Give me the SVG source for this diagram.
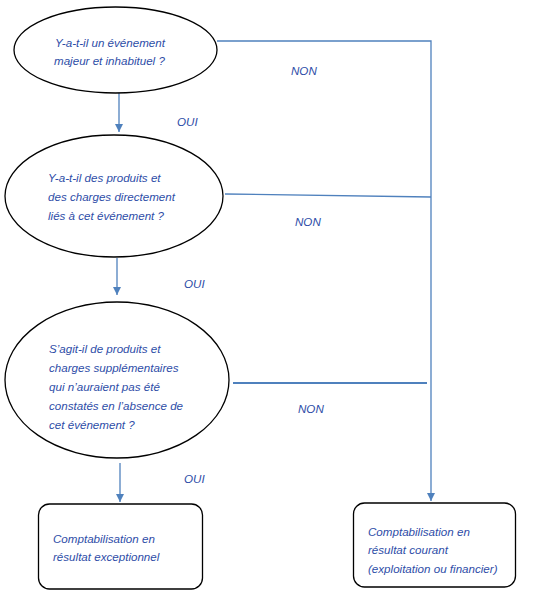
<svg xmlns="http://www.w3.org/2000/svg" width="536" height="595" viewBox="0 0 536 595">
<style>
.n{fill:#fff;stroke:#000;stroke-width:1.3}
.t{font-family:"Liberation Sans",Arial,sans-serif;font-style:italic;font-size:11.6px;fill:#2E4DA7}
.c{fill:none;stroke:#4F81BD;stroke-width:1.3}
</style>
<defs>
<marker id="ah" viewBox="0 0 10 10" refX="10" refY="5" markerWidth="8" markerHeight="8" markerUnits="userSpaceOnUse" orient="auto">
<path d="M0,0L10,5L0,10z" fill="#4F81BD"/>
</marker>
</defs>
<rect width="536" height="595" fill="#fff"/>
<g id="connectors">
<path class="c" d="M119,93V132" marker-end="url(#ah)"/>
<path class="c" d="M117,258V295" marker-end="url(#ah)"/>
<path class="c" d="M120,463V502" marker-end="url(#ah)"/>
<path class="c" d="M217,41H431V501" marker-end="url(#ah)"/>
<path class="c" d="M225,194L431,197"/>
<path class="c" style="stroke-width:2.2" d="M233,383H427"/>
<text class="t" x="291" y="75">NON</text>
<text class="t" x="177" y="126">OUI</text>
<text class="t" x="295" y="226">NON</text>
<text class="t" x="184" y="288">OUI</text>
<text class="t" x="298" y="413">NON</text>
<text class="t" x="184" y="483">OUI</text>
</g>
<g id="q1">
<ellipse class="n" cx="115.5" cy="50" rx="101.5" ry="43"/>
<text class="t" x="55" y="47">Y-a-t-il un événement</text>
<text class="t" x="54" y="65">majeur et inhabituel ?</text>
</g>
<g id="q2">
<ellipse class="n" cx="114" cy="196" rx="109" ry="61"/>
<text class="t" x="48" y="182">Y-a-t-il des produits et</text>
<text class="t" x="48" y="201">des charges directement</text>
<text class="t" x="48" y="220">liés à cet événement ?</text>
</g>
<g id="q3">
<ellipse class="n" cx="117" cy="380" rx="112" ry="78"/>
<text class="t" x="49" y="353">S’agit-il de produits et</text>
<text class="t" x="49" y="372">charges supplémentaires</text>
<text class="t" x="49" y="391">qui n’auraient pas été</text>
<text class="t" x="49" y="410">constatés en l’absence de</text>
<text class="t" x="49" y="429">cet événement ?</text>
</g>
<g id="r1">
<rect class="n" x="38.5" y="504" width="164" height="85" rx="11"/>
<text class="t" x="53" y="543">Comptabilisation en</text>
<text class="t" x="53" y="561">résultat exceptionnel</text>
</g>
<g id="r2">
<rect class="n" x="353.5" y="503" width="162" height="84" rx="11"/>
<text class="t" x="368" y="536">Comptabilisation en</text>
<text class="t" x="368" y="554">résultat courant</text>
<text class="t" x="368" y="573">(exploitation ou financier)</text>
</g>
</svg>
